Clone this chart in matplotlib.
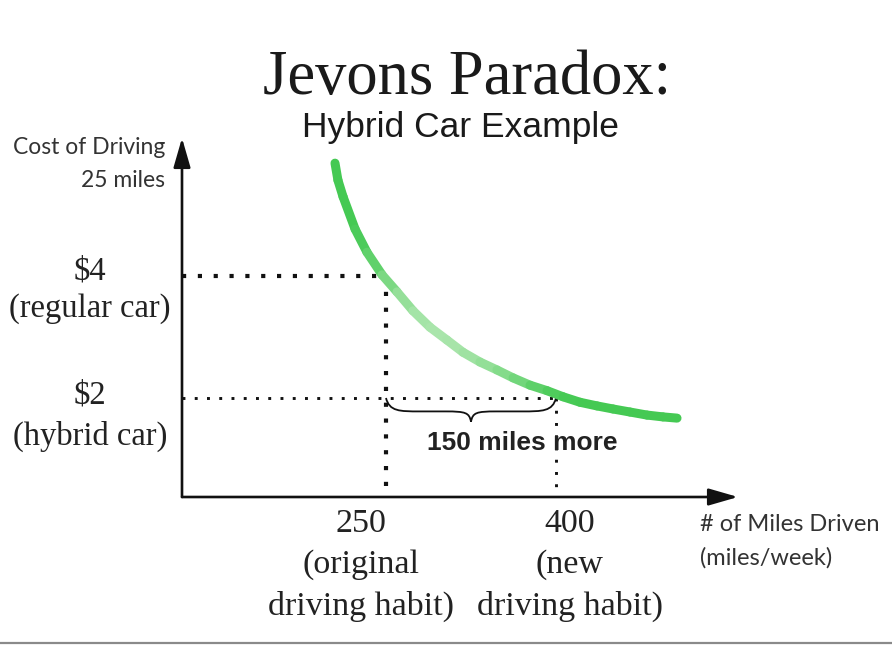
import numpy as np
import matplotlib
matplotlib.use("Agg")
import matplotlib.pyplot as plt
from matplotlib.collections import LineCollection
from matplotlib.colors import LinearSegmentedColormap
from matplotlib.path import Path
from matplotlib.patches import PathPatch
import matplotlib.transforms as mtransforms

# --- data ---
miles = [205.0, 207.6, 212.1, 222.7, 233.2, 246.5, 259.7, 273.8, 288.8, 303.8, 317.9, 332.9,
         347.9, 362.1, 377.1, 392.1, 406.2, 421.2, 436.2, 450.3, 465.3, 480.3, 494.4, 506.8]
cost = [5.85, 5.57, 5.30, 4.77, 4.39, 4.02, 3.74, 3.43, 3.16, 2.95, 2.75, 2.59,
        2.46, 2.33, 2.21, 2.12, 2.02, 1.93, 1.87, 1.82, 1.77, 1.72, 1.69, 1.67]
# how washed-out the curve is at each point (0 = bright green, 1 = pale)
fade = [0, 0, 0, 0, 0.15, 0.4, 0.7, 0.9, 1, 1, 0.95, 0.85,
        0.7, 0.55, 0.35, 0.15, 0.05, 0, 0, 0, 0, 0, 0, 0]

old_miles, new_miles = 250, 400
old_cost, new_cost = 4, 2
x_min, x_max = 70, 560.6
y_min, y_max = 0.377, 6.262

W, H = 892, 648
fig = plt.figure(figsize=(W / 100, H / 100), dpi=100)
ax = fig.add_axes([182 / W, (H - 497) / H, (738 - 182) / W, (497 - 138) / H])
ax.set_xlim(x_min, x_max)
ax.set_ylim(y_min, y_max)
ax.axis("off")

def fx(px):
    return px / W

def fy(py):
    return 1 - py / H

# --- axes with arrow heads ---
arrow = dict(arrowstyle="-|>,head_length=0.9,head_width=0.26", lw=1.9, color="#111111",
             mutation_scale=20, shrinkA=0, shrinkB=0)
ax.annotate("", xy=(x_max, y_min), xytext=(x_min, y_min), arrowprops=arrow, annotation_clip=False)
ax.annotate("", xy=(x_min, y_max), xytext=(x_min, y_min), arrowprops=arrow, annotation_clip=False)

# --- dotted guide lines ---
big = dict(color="#111111", lw=3.0, linestyle=(0, (1, 2.8)), dash_capstyle="butt", clip_on=False)
small = dict(color="#111111", lw=2.1, linestyle=(0, (1, 3.2)), dash_capstyle="butt", clip_on=False)
ax.plot([x_min, old_miles], [old_cost, old_cost], **big)
ax.plot([old_miles, old_miles], [old_cost, y_min], **big)
ax.plot([x_min, new_miles], [new_cost, new_cost], **small)
ax.plot([new_miles, new_miles], [new_cost, y_min], **small)

# --- demand curve with fading colour ---
pts = np.column_stack([miles, cost])
segs = np.stack([pts[:-1], pts[1:]], axis=1)
seg_fade = [(a + b) / 2 for a, b in zip(fade[:-1], fade[1:])]
cmap = LinearSegmentedColormap.from_list("g", ["#45c953", "#a9e5ab"])
lc = LineCollection(segs, cmap=cmap, linewidths=6.5, capstyle="round", joinstyle="round")
lc.set_array(np.array(seg_fade))
lc.set_clim(0, 1)
ax.add_collection(lc)

# --- curly brace between the two mileages ---
x0, x1, yb = old_miles, new_miles, new_cost
w = x1 - x0
xm = (x0 + x1) / 2
d1, d2 = 0.22, 0.39
verts = [(x0, yb),
         (x0 + 0.02 * w, yb - d1), (x0 + 0.08 * w, yb - d1), (x0 + 0.2 * w, yb - d1),
         (xm - 0.15 * w, yb - d1),
         (xm - 0.03 * w, yb - d1), (xm - 0.01 * w, yb - d1 - 0.02), (xm, yb - d2),
         (xm + 0.01 * w, yb - d1 - 0.02), (xm + 0.03 * w, yb - d1), (xm + 0.15 * w, yb - d1),
         (x1 - 0.2 * w, yb - d1),
         (x1 - 0.08 * w, yb - d1), (x1 - 0.02 * w, yb - d1), (x1, yb)]
codes = [Path.MOVETO] + [Path.CURVE4] * 3 + [Path.LINETO] + [Path.CURVE4] * 6 + \
        [Path.LINETO] + [Path.CURVE4] * 3
ax.add_patch(PathPatch(Path(verts, codes), fill=False, lw=1.3, color="#111111", clip_on=False))

ax.text(xm + 0.3 * w, yb - 0.74, "150 miles more", fontsize=19, fontweight="bold",
        family="Liberation Sans", color="#222222", ha="center", va="center")

# --- titles ---
fig.text(fx(467), fy(94), "Jevons Paradox:", fontsize=45, family="Liberation Serif",
         color="#1a1a1a", ha="center", va="baseline")
fig.text(fx(460), fy(137), "Hybrid Car Example", fontsize=25.5, family="Liberation Sans",
         color="#1a1a1a", ha="center", va="baseline")

# --- axis titles ---
sans = ["Lato", "DejaVu Sans"]
fig.text(fx(165), fy(164), "Cost of Driving\n25 miles", fontsize=16.5, family=sans,
         color="#333333", ha="right", va="center", multialignment="right", linespacing=1.75)
fig.text(fx(700), fy(541), "# of Miles Driven\n(miles/week)", fontsize=17, family=sans,
         color="#333333", ha="left", va="center", multialignment="left", linespacing=1.7)

# --- value labels ---
serif = "Liberation Serif"
fig.text(fx(90), fy(290), "$4\n(regular car)", fontsize=23.5, family=serif,
         color="#222222", ha="center", va="center", linespacing=1.3)
fig.text(fx(90), fy(416), "$2\n(hybrid car)", fontsize=23.5, family=serif,
         color="#222222", ha="center", va="center", linespacing=1.45)

tx = mtransforms.blended_transform_factory(ax.transData, fig.transFigure)
ax.text(old_miles - 22, fy(509), "250\n(original\ndriving habit)", transform=tx, fontsize=24.5,
        family=serif, color="#222222", ha="center", va="top", linespacing=1.42)
ax.text(new_miles + 12, fy(509), "400\n(new\ndriving habit)", transform=tx, fontsize=24.5,
        family=serif, color="#222222", ha="center", va="top", linespacing=1.42)

# grey rule along the bottom edge
fig.add_artist(plt.Line2D([0, 1], [fy(643), fy(643)], color="#8a8a8a", lw=1.6))

fig.savefig("out.png", dpi=100)
